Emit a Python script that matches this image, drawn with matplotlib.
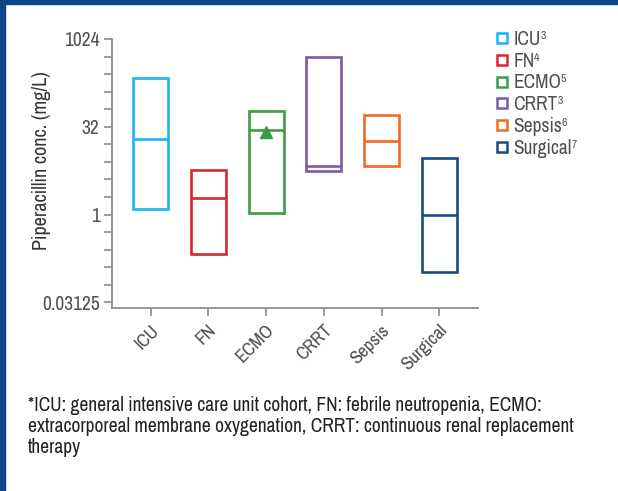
import matplotlib
matplotlib.use("Agg")
import matplotlib.pyplot as plt
from matplotlib.lines import Line2D
from matplotlib.ticker import FixedLocator, FixedFormatter, NullFormatter
from matplotlib.patches import Rectangle

# ---- data ----
categories = ["ICU", "FN", "ECMO", "CRRT", "Sepsis", "Surgical"]
legend_refs = ["3", "4", "5", "3", "6", "7"]
q_low = [1.27, 0.21, 1.06, 5.5, 6.7, 0.104]
q_med = [19.4, 1.96, 28.4, 6.85, 18.4, 1.0]
q_high = [216, 5.9, 60, 510, 51, 9.5]
ecmo_mean = 26.0
colors = ["#1EB2EE", "#D5272F", "#3D9B47", "#7D5BA6", "#F26A24", "#184A88"]
ytick_vals = [0.03125, 1, 32, 1024]
ytick_labels = ["0.03125", "1", "32", "1024"]

FONT = ["Archivo Narrow", "Roboto Condensed", "DejaVu Sans"]
plt.rcParams["font.family"] = FONT

W, H = 618, 491
fig = plt.figure(figsize=(W / 100, H / 100), dpi=100)

# frame
frame_col = "#0B4587"
fig.patches.append(Rectangle((0, 1 - 4 / H), 1, 4 / H, transform=fig.transFigure,
                             color=frame_col, zorder=0))
fig.patches.append(Rectangle((0, 0), 5 / W, 1, transform=fig.transFigure,
                             color=frame_col, zorder=0))

ax = fig.add_axes([112 / W, 1 - 308 / H, (478 - 112) / W, (308 - 39) / H])
ax.set_yscale("log", base=2)
ax.set_ylim(2 ** -5.32, 1024)
ax.set_xlim(-0.67, 5.67)

bw = 0.61
for i, c in enumerate(categories):
    ax.bar(i, q_high[i] - q_low[i], bottom=q_low[i], width=bw, fill=False,
           edgecolor=colors[i], linewidth=1.9, zorder=3)
    ax.hlines(q_med[i], i - bw / 2, i + bw / 2, color=colors[i], linewidth=1.9, zorder=3)
ax.plot([categories.index("ECMO")], [ecmo_mean], marker="^", color=colors[2],
        markersize=8.5, linestyle="none", zorder=4)

# axes styling
spine_col = "#8C8C8C"
for s in ["top", "right"]:
    ax.spines[s].set_visible(False)
for s in ["left", "bottom"]:
    ax.spines[s].set_color(spine_col)
    ax.spines[s].set_linewidth(1.3)

ax.yaxis.set_major_locator(FixedLocator(ytick_vals))
ax.yaxis.set_major_formatter(FixedFormatter(ytick_labels))
ax.yaxis.set_minor_locator(FixedLocator([2.0 ** k for k in range(-5, 11)]))
ax.yaxis.set_minor_formatter(NullFormatter())
ax.tick_params(axis="y", which="both", length=6, width=1.2, color=spine_col,
               labelsize=14, labelcolor="#505050", pad=3)
ax.set_xticks(range(len(categories)))
ax.set_xticklabels(categories, rotation=45, ha="right", rotation_mode="anchor")
ax.tick_params(axis="x", length=6, width=1.2, color=spine_col,
               labelsize=13.5, labelcolor="#505050", pad=4)

fig.text(42 / W, 1 - 161 / H, "Piperacillin conc. (mg/L)", rotation=90,
         ha="center", va="center", fontsize=14.5, color="#333333")

# legend
handles = [Line2D([], [], marker="s", markersize=7.3, markerfacecolor="white",
                  markeredgecolor=colors[i], markeredgewidth=1.8, linestyle="none")
           for i in range(len(categories))]
leg = fig.legend(handles, categories, loc="upper left",
                 bbox_to_anchor=(495 / W, 1 - 30 / H), bbox_transform=fig.transFigure,
                 frameon=False, fontsize=14, handlelength=0.7, handletextpad=0.25,
                 labelspacing=0.14, borderpad=0, borderaxespad=0)
for t in leg.get_texts():
    t.set_color("#505050")

fig.canvas.draw()
renderer = fig.canvas.get_renderer()
inv = fig.transFigure.inverted()
for t, r in zip(leg.get_texts(), legend_refs):
    bb = t.get_window_extent(renderer)
    x0, y1 = inv.transform((bb.x1 - 0.5, bb.y1 - 1))
    fig.text(x0, y1, r, fontsize=8.5, color="#505050", ha="left", va="top")

caption = ("*ICU: general intensive care unit cohort, FN: febrile neutropenia, ECMO:\n"
           "extracorporeal membrane oxygenation, CRRT: continuous renal replacement\n"
           "therapy")
fig.text(28 / W, 1 - 396 / H, caption, ha="left", va="top", fontsize=14,
         color="#222222", linespacing=1.12)

fig.savefig("out.png", dpi=100)
